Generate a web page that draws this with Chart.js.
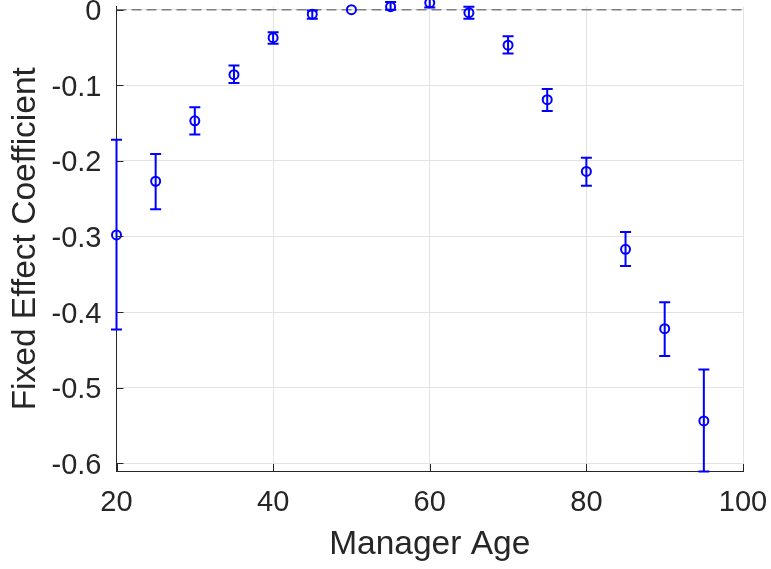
<!DOCTYPE html>
<html>
<head>
<meta charset="utf-8">
<script src="https://cdn.jsdelivr.net/npm/chart.js@4.4.1/dist/chart.umd.min.js"></script>
<style>
  html, body { margin: 0; padding: 0; background: #fff; overflow: hidden; }
  #wrap { width: 771px; height: 569px; }
</style>
</head>
<body>
<div id="wrap"><canvas id="ageChart" width="771" height="569"></canvas></div>
<script>
// manager age fixed effects
const ages = [20, 25, 30, 35, 40, 45, 50, 55, 60, 65, 70, 75, 80, 85, 90, 95];
const coef = [-0.298, -0.227, -0.147, -0.086, -0.037, -0.006, 0.000, 0.004, 0.009, -0.004, -0.047, -0.119, -0.214, -0.317, -0.422, -0.544];
const ciLow = [-0.423, -0.264, -0.165, -0.097, -0.045, -0.012, 0.000, 0.000, 0.003, -0.012, -0.058, -0.134, -0.233, -0.339, -0.458, -0.611];
const ciHigh = [-0.172, -0.191, -0.129, -0.074, -0.030, -0.001, 0.000, 0.010, 0.015, 0.004, -0.035, -0.105, -0.196, -0.294, -0.387, -0.476];

const xTicks = [20, 40, 60, 80, 100];
const yTicks = [-0.6, -0.5, -0.4, -0.3, -0.2, -0.1, 0];
const yTickLabels = ['-0.6', '-0.5', '-0.4', '-0.3', '-0.2', '-0.1', '0'];
const zeroLine = [{x: 20, y: 0}, {x: 100, y: 0}];

const blue = '#0000ff';
const axisGrey = '#262626';
const gridGrey = '#e3e3e3';
const fam = "'Liberation Sans', Arial, Helvetica, sans-serif";

// vertical error bars with caps
const errorBars = {
  id: 'errorBars',
  afterDatasetsDraw(chart) {
    const {ctx, scales: {x, y}} = chart;
    ctx.save();
    ctx.strokeStyle = blue;
    ctx.lineWidth = 2;
    ages.forEach((a, i) => {
      const px = x.getPixelForValue(a);
      const top = y.getPixelForValue(ciHigh[i]);
      const bot = y.getPixelForValue(ciLow[i]);
      if (bot - top < 1) return;
      ctx.beginPath();
      ctx.moveTo(px, top); ctx.lineTo(px, bot);
      ctx.moveTo(px - 5.5, top); ctx.lineTo(px + 5.5, top);
      ctx.moveTo(px - 5.5, bot); ctx.lineTo(px + 5.5, bot);
      ctx.stroke();
    });
    ctx.restore();
  }
};

// matlab style ticks pointing into the axes
const innerTicks = {
  id: 'innerTicks',
  afterDraw(chart) {
    const {ctx, chartArea: a, scales: {x, y}} = chart;
    ctx.save();
    ctx.strokeStyle = axisGrey;
    ctx.lineWidth = 1;
    ctx.beginPath();
    y.ticks.forEach(t => {
      const py = Math.round(y.getPixelForValue(t.value)) + 0.5;
      ctx.moveTo(a.left, py); ctx.lineTo(a.left + 7, py);
    });
    x.ticks.forEach(t => {
      const px = Math.round(x.getPixelForValue(t.value)) + 0.5;
      ctx.moveTo(px, a.bottom); ctx.lineTo(px, a.bottom - 7);
    });
    ctx.stroke();
    ctx.restore();
  }
};

const chart = new Chart(document.getElementById('ageChart').getContext('2d'), {
  type: 'scatter',
  data: {
    datasets: [
      {
        data: ages.map((a, i) => ({x: a, y: coef[i]})),
        pointStyle: 'circle',
        pointRadius: 4.5,
        pointBorderWidth: 2,
        pointBorderColor: blue,
        pointBackgroundColor: 'rgba(0,0,0,0)',
        clip: false
      },
      {
        type: 'line',
        data: zeroLine,
        borderColor: '#7f7f7f',
        borderWidth: 1.5,
        borderDash: [10, 5],
        pointRadius: 0,
        fill: false
      }
    ]
  },
  options: {
    responsive: false,
    animation: false,
    events: [],
    devicePixelRatio: 1,
    layout: { padding: {top: 0, right: 28, bottom: 0, left: 0} },
    plugins: { legend: {display: false}, tooltip: {enabled: false} },
    scales: {
      x: {
        type: 'linear', min: 20, max: 100,
        afterBuildTicks: s => { s.ticks = xTicks.map(v => ({value: v})); },
        afterFit: s => { s.height = 98; s.paddingLeft = 0; s.paddingRight = 0; },
        grid: { color: gridGrey, drawTicks: false },
        border: { color: axisGrey, width: 1 },
        ticks: { padding: 15, color: axisGrey, font: {family: fam, size: 29} },
        title: {
          display: true, text: 'Manager Age', color: axisGrey,
          font: {family: fam, size: 33.5}, padding: {top: 0, bottom: 4}
        }
      },
      y: {
        type: 'linear', min: -0.6103, max: 0.0042,
        afterBuildTicks: s => { s.ticks = yTicks.map(v => ({value: v})); },
        afterFit: s => { s.width = 116.5; s.paddingTop = 0; s.paddingBottom = 0; },
        grid: { color: gridGrey, drawTicks: false },
        border: { color: axisGrey, width: 1 },
        ticks: {
          padding: 15, labelOffset: 2.5, color: axisGrey,
          font: {family: fam, size: 29},
          callback: (v, i) => yTickLabels[i]
        },
        title: {
          display: true, text: 'Fixed Effect Coefficient', color: axisGrey,
          font: {family: fam, size: 33.5}, padding: {top: 6, bottom: 0}
        }
      }
    }
  },
  plugins: [errorBars, innerTicks]
});
</script>
</body>
</html>
